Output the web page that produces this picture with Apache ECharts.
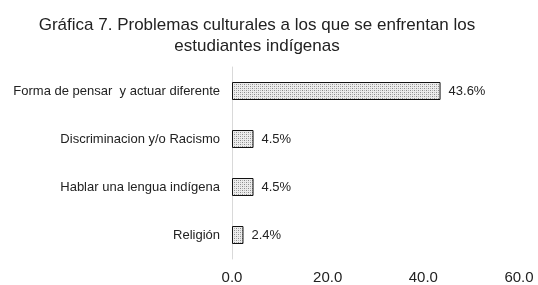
<!DOCTYPE html>
<html><head><meta charset="utf-8">
<script src="https://cdn.jsdelivr.net/npm/echarts@6/dist/echarts.min.js"></script>
<style>html,body{margin:0;padding:0;background:#fff}#c{width:538px;height:285px}</style>
</head><body><div id="c"></div>
<script>
const categories = ["Forma de pensar  y actuar diferente", "Discriminacion y/o Racismo", "Hablar una lengua indígena", "Religión"];
const values = [43.6, 4.5, 4.5, 2.4];
const tickMax = 60, tickStep = 20;

const pc = document.createElement('canvas');
pc.width = 4; pc.height = 4;
const g = pc.getContext('2d');
g.fillStyle = '#ececec'; g.fillRect(0,0,4,4);
g.fillStyle = '#8a8a8a';
g.fillRect(0,0,1,1); g.fillRect(2,2,1,1);
g.fillStyle = '#b5b5b5';
g.fillRect(2,0,1,1); g.fillRect(0,2,1,1);

const chart = echarts.init(document.getElementById('c'), null, {renderer:'canvas'});
chart.setOption({
  animation:false,
  title:{text:'Gráfica 7. Problemas culturales a los que se enfrentan los\nestudiantes indígenas', left:252, textAlign:'center', top:10,
    textStyle:{fontFamily:'Liberation Sans', fontSize:17, fontWeight:'normal', color:'#222', lineHeight:21}},
  grid:{left:232, right:19, top:67, bottom:25, containLabel:false},
  xAxis:{type:'value', min:0, max:tickMax, interval:tickStep, splitLine:{show:false},
    axisLine:{show:false}, axisTick:{show:false},
    axisLabel:{formatter:v=>v.toFixed(1), fontFamily:'Liberation Sans', fontSize:15, color:'#222', margin:11}},
  yAxis:{type:'category', data:categories, inverse:true,
    axisLine:{show:true, lineStyle:{color:'#d9d9d9', width:1}}, axisTick:{show:false},
    axisLabel:{fontFamily:'Liberation Sans', fontSize:13, color:'#222', margin:12}},
  series:[{type:'bar', data:values, barWidth:18,
    itemStyle:{color:{image:pc, repeat:'repeat'}, borderColor:'#111', borderWidth:1},
    label:{show:true, position:'right', distance:8, formatter:p=>p.value.toFixed(1)+'%', fontFamily:'Liberation Sans', fontSize:13, color:'#222'}}]
});
</script></body></html>
